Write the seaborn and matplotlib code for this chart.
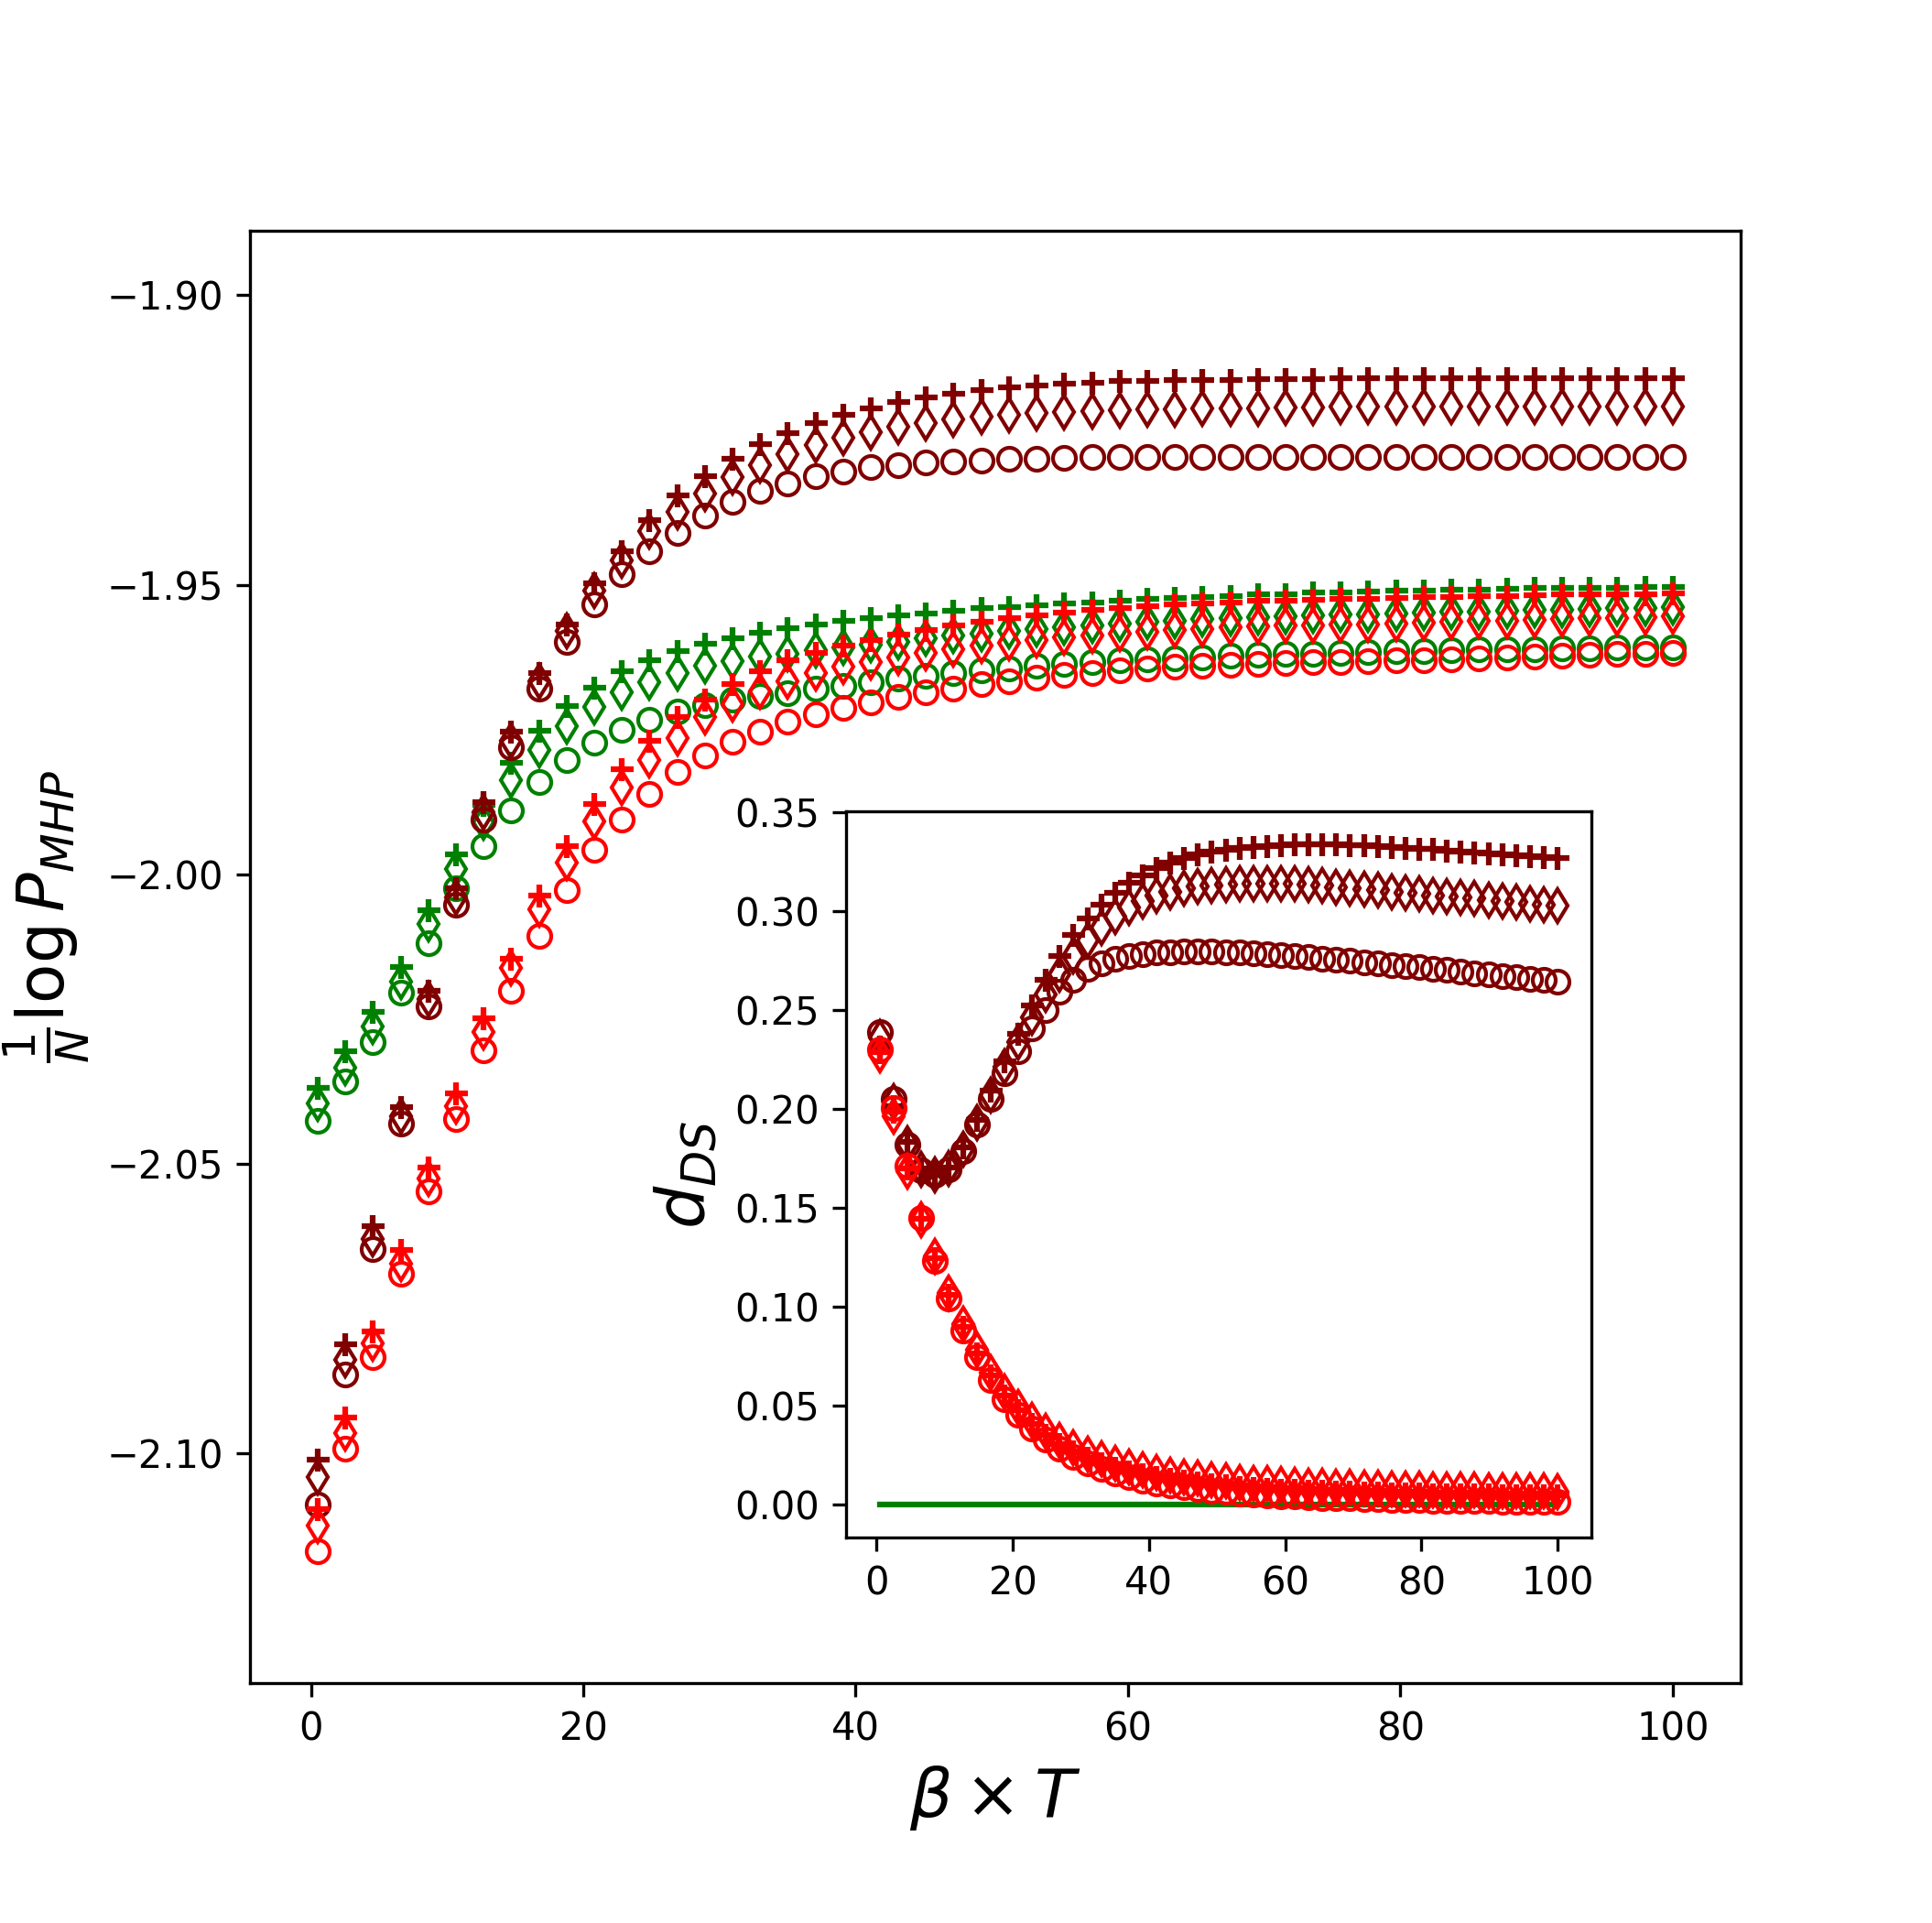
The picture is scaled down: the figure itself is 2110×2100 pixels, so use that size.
import numpy as np
import matplotlib
matplotlib.use("Agg")
import matplotlib.pyplot as plt
import seaborn as sns

# ---------------- data ----------------
beta_T = [0.50, 2.53, 4.56, 6.59, 8.62, 10.65, 12.68, 14.71, 16.74, 18.78,
          20.81, 22.84, 24.87, 26.90, 28.93, 30.96, 32.99, 35.02, 37.05, 39.08,
          41.11, 43.14, 45.17, 47.20, 49.23, 51.27, 53.30, 55.33, 57.36, 59.39,
          61.42, 63.45, 65.48, 67.51, 69.54, 71.57, 73.60, 75.63, 77.66, 79.69,
          81.72, 83.76, 85.79, 87.82, 89.85, 91.88, 93.91, 95.94, 97.97, 100.00]

# main panel: (1/N) log P_MHP
darkred_plus = [-2.1011, -2.0811, -2.0608, -2.0402, -2.0201, -2.0024, -1.9876, -1.9753, -1.9653, -1.9569,
                -1.9498, -1.9442, -1.9388, -1.9346, -1.9312, -1.9283, -1.9257, -1.9238, -1.9221, -1.9206,
                -1.9195, -1.9185, -1.9176, -1.9170, -1.9164, -1.9160, -1.9156, -1.9153, -1.9151, -1.9149,
                -1.9148, -1.9147, -1.9146, -1.9146, -1.9145, -1.9145, -1.9145, -1.9144, -1.9144, -1.9144,
                -1.9144, -1.9143, -1.9143, -1.9143, -1.9143, -1.9143, -1.9143, -1.9143, -1.9143, -1.9143]
darkred_diam = [-2.1040, -2.0838, -2.0630, -2.0417, -2.0215, -2.0040, -1.9893, -1.9769, -1.9666, -1.9580,
                -1.9511, -1.9458, -1.9408, -1.9374, -1.9342, -1.9315, -1.9293, -1.9274, -1.9259, -1.9246,
                -1.9236, -1.9227, -1.9221, -1.9214, -1.9210, -1.9206, -1.9204, -1.9202, -1.9200, -1.9199,
                -1.9198, -1.9197, -1.9196, -1.9195, -1.9195, -1.9194, -1.9194, -1.9193, -1.9193, -1.9193,
                -1.9192, -1.9192, -1.9192, -1.9192, -1.9192, -1.9192, -1.9192, -1.9192, -1.9192, -1.9192]
darkred_circ = [-2.1088, -2.0864, -2.0647, -2.0430, -2.0228, -2.0053, -1.9906, -1.9781, -1.9679, -1.9598,
                -1.9534, -1.9482, -1.9442, -1.9410, -1.9380, -1.9357, -1.9338, -1.9325, -1.9312, -1.9304,
                -1.9297, -1.9293, -1.9289, -1.9287, -1.9285, -1.9283, -1.9282, -1.9281, -1.9280, -1.9280,
                -1.9280, -1.9280, -1.9280, -1.9280, -1.9280, -1.9280, -1.9280, -1.9280, -1.9280, -1.9280,
                -1.9280, -1.9280, -1.9280, -1.9280, -1.9280, -1.9280, -1.9280, -1.9280, -1.9280, -1.9280]

green_plus = [-2.0368, -2.0306, -2.0238, -2.0160, -2.0062, -1.9966, -1.9880, -1.9808, -1.9752, -1.9709,
              -1.9677, -1.9650, -1.9630, -1.9614, -1.9602, -1.9592, -1.9583, -1.9575, -1.9569, -1.9563,
              -1.9558, -1.9553, -1.9549, -1.9545, -1.9541, -1.9538, -1.9535, -1.9532, -1.9530, -1.9527,
              -1.9525, -1.9523, -1.9521, -1.9519, -1.9517, -1.9516, -1.9514, -1.9513, -1.9512, -1.9511,
              -1.9510, -1.9509, -1.9508, -1.9507, -1.9506, -1.9506, -1.9505, -1.9505, -1.9504, -1.9504]
green_diam = [-2.0396, -2.0334, -2.0263, -2.0185, -2.0085, -1.9990, -1.9910, -1.9837, -1.9785, -1.9744,
              -1.9711, -1.9686, -1.9668, -1.9653, -1.9640, -1.9632, -1.9624, -1.9619, -1.9613, -1.9608,
              -1.9603, -1.9598, -1.9593, -1.9588, -1.9584, -1.9580, -1.9576, -1.9573, -1.9570, -1.9567,
              -1.9564, -1.9562, -1.9560, -1.9558, -1.9556, -1.9554, -1.9553, -1.9552, -1.9551, -1.9550,
              -1.9548, -1.9547, -1.9546, -1.9545, -1.9544, -1.9543, -1.9542, -1.9541, -1.9540, -1.9539]
green_circ = [-2.0425, -2.0357, -2.0289, -2.0204, -2.0119, -2.0024, -1.9952, -1.9889, -1.9840, -1.9802,
              -1.9773, -1.9750, -1.9733, -1.9719, -1.9708, -1.9698, -1.9692, -1.9687, -1.9679, -1.9674,
              -1.9668, -1.9662, -1.9657, -1.9652, -1.9648, -1.9644, -1.9640, -1.9637, -1.9634, -1.9631,
              -1.9629, -1.9627, -1.9625, -1.9623, -1.9621, -1.9620, -1.9619, -1.9617, -1.9616, -1.9615,
              -1.9614, -1.9613, -1.9612, -1.9612, -1.9611, -1.9610, -1.9610, -1.9609, -1.9609, -1.9609]

red_plus = [-2.1095, -2.0938, -2.0789, -2.0648, -2.0506, -2.0378, -2.0248, -2.0146, -2.0037, -1.9951,
            -1.9879, -1.9819, -1.9770, -1.9728, -1.9698, -1.9671, -1.9649, -1.9630, -1.9618, -1.9605,
            -1.9595, -1.9586, -1.9578, -1.9571, -1.9564, -1.9558, -1.9553, -1.9548, -1.9544, -1.9540,
            -1.9537, -1.9534, -1.9532, -1.9530, -1.9528, -1.9527, -1.9526, -1.9525, -1.9524, -1.9523,
            -1.9522, -1.9521, -1.9520, -1.9519, -1.9518, -1.9517, -1.9517, -1.9516, -1.9516, -1.9515]
red_diam = [-2.1124, -2.0965, -2.0810, -2.0672, -2.0525, -2.0400, -2.0272, -2.0161, -2.0061, -1.9979,
            -1.9908, -1.9850, -1.9803, -1.9764, -1.9729, -1.9706, -1.9684, -1.9666, -1.9653, -1.9642,
            -1.9633, -1.9625, -1.9618, -1.9611, -1.9605, -1.9600, -1.9595, -1.9591, -1.9587, -1.9584,
            -1.9581, -1.9578, -1.9576, -1.9574, -1.9572, -1.9571, -1.9570, -1.9569, -1.9568, -1.9567,
            -1.9566, -1.9564, -1.9563, -1.9562, -1.9561, -1.9560, -1.9558, -1.9557, -1.9556, -1.9555]
red_circ = [-2.1169, -2.0992, -2.0834, -2.0689, -2.0547, -2.0423, -2.0304, -2.0201, -2.0106, -2.0027,
            -1.9958, -1.9906, -1.9861, -1.9823, -1.9795, -1.9771, -1.9753, -1.9737, -1.9724, -1.9713,
            -1.9703, -1.9694, -1.9686, -1.9679, -1.9672, -1.9666, -1.9661, -1.9656, -1.9652, -1.9648,
            -1.9645, -1.9642, -1.9640, -1.9638, -1.9636, -1.9635, -1.9634, -1.9633, -1.9632, -1.9631,
            -1.9630, -1.9628, -1.9627, -1.9625, -1.9624, -1.9622, -1.9621, -1.9620, -1.9619, -1.9618]

# inset: d_DS
dds_darkred_plus = [0.2312, 0.2011, 0.1830, 0.1700, 0.1668, 0.1705, 0.1805, 0.1945, 0.2090, 0.2240,
                    0.2380, 0.2520, 0.2650, 0.2770, 0.2880, 0.2960, 0.3030, 0.3090, 0.3140, 0.3180,
                    0.3215, 0.3243, 0.3265, 0.3283, 0.3297, 0.3308, 0.3317, 0.3324, 0.3329, 0.3333,
                    0.3335, 0.3336, 0.3336, 0.3335, 0.3333, 0.3330, 0.3327, 0.3323, 0.3319, 0.3315,
                    0.3311, 0.3306, 0.3301, 0.3296, 0.3291, 0.3286, 0.3281, 0.3276, 0.3271, 0.3267]
dds_darkred_diam = [0.2360, 0.2035, 0.1822, 0.1692, 0.1666, 0.1700, 0.1795, 0.1930, 0.2070, 0.2210,
                    0.2335, 0.2460, 0.2575, 0.2680, 0.2770, 0.2850, 0.2915, 0.2970, 0.3015, 0.3050,
                    0.3077, 0.3097, 0.3112, 0.3122, 0.3129, 0.3134, 0.3137, 0.3138, 0.3138, 0.3137,
                    0.3135, 0.3131, 0.3126, 0.3121, 0.3115, 0.3109, 0.3103, 0.3097, 0.3091, 0.3085,
                    0.3079, 0.3073, 0.3067, 0.3061, 0.3055, 0.3049, 0.3043, 0.3037, 0.3031, 0.3025]
dds_darkred_circ = [0.2389, 0.2050, 0.1817, 0.1687, 0.1664, 0.1694, 0.1787, 0.1919, 0.2050, 0.2181,
                    0.2289, 0.2405, 0.2497, 0.2590, 0.2651, 0.2705, 0.2735, 0.2757, 0.2772, 0.2782,
                    0.2788, 0.2792, 0.2794, 0.2795, 0.2794, 0.2792, 0.2789, 0.2785, 0.2781, 0.2776,
                    0.2771, 0.2765, 0.2759, 0.2753, 0.2747, 0.2741, 0.2734, 0.2727, 0.2721, 0.2714,
                    0.2707, 0.2700, 0.2693, 0.2686, 0.2679, 0.2672, 0.2665, 0.2658, 0.2650, 0.2643]

dds_red_plus = [0.2285, 0.1985, 0.1700, 0.1445, 0.1245, 0.1060, 0.0898, 0.0765, 0.0650, 0.0552,
                0.0475, 0.0407, 0.0353, 0.0306, 0.0267, 0.0235, 0.0208, 0.0186, 0.0167, 0.0152,
                0.0139, 0.0128, 0.0118, 0.0110, 0.0103, 0.0096, 0.0090, 0.0085, 0.0080, 0.0076,
                0.0073, 0.0070, 0.0067, 0.0065, 0.0063, 0.0061, 0.0059, 0.0057, 0.0055, 0.0054,
                0.0053, 0.0052, 0.0051, 0.0050, 0.0049, 0.0048, 0.0047, 0.0046, 0.0046, 0.0045]
dds_red_diam = [0.2270, 0.1962, 0.1683, 0.1440, 0.1255, 0.1070, 0.0910, 0.0780, 0.0665, 0.0568,
                0.0492, 0.0425, 0.0372, 0.0325, 0.0287, 0.0255, 0.0229, 0.0207, 0.0189, 0.0174,
                0.0161, 0.0150, 0.0140, 0.0132, 0.0125, 0.0119, 0.0113, 0.0108, 0.0104, 0.0100,
                0.0097, 0.0094, 0.0091, 0.0088, 0.0086, 0.0084, 0.0082, 0.0080, 0.0078, 0.0077,
                0.0075, 0.0074, 0.0073, 0.0072, 0.0071, 0.0070, 0.0069, 0.0068, 0.0067, 0.0066]
dds_red_circ = [0.2300, 0.2003, 0.1710, 0.1448, 0.1232, 0.1043, 0.0880, 0.0745, 0.0630, 0.0530,
                0.0452, 0.0383, 0.0329, 0.0280, 0.0240, 0.0207, 0.0180, 0.0157, 0.0138, 0.0122,
                0.0108, 0.0096, 0.0086, 0.0077, 0.0070, 0.0063, 0.0057, 0.0052, 0.0047, 0.0043,
                0.0040, 0.0037, 0.0034, 0.0032, 0.0030, 0.0028, 0.0026, 0.0024, 0.0023, 0.0021,
                0.0020, 0.0019, 0.0018, 0.0017, 0.0016, 0.0015, 0.0014, 0.0014, 0.0013, 0.0013]

dds_green = [0.0] * 50

colors = {"green": "green", "darkred": "#800000", "red": "red"}

# ---------------- figure ----------------
W, H = 2110, 2100
fig = plt.figure(figsize=(W / 300, H / 300), dpi=300)
ax = fig.add_axes([273 / W, 1 - 1838 / H, (1900.7 - 273) / W, (1838 - 252) / H])
axin = fig.add_axes([924 / W, 1 - 1679 / H, (1738 - 924) / W, (1679 - 886) / H])


def draw(a, y, marker, color):
    mew = 1.5 if marker == "+" else 1.0
    sns.lineplot(x=beta_T, y=y, ax=a, marker=marker, linestyle="", color=color,
                 markerfacecolor="none", markeredgecolor=color, markeredgewidth=mew,
                 markersize=6, sort=False, estimator=None, errorbar=None, legend=False)


main_series = [
    ("green", green_plus, green_diam, green_circ),
    ("darkred", darkred_plus, darkred_diam, darkred_circ),
    ("red", red_plus, red_diam, red_circ),
]
for cname, yp, yd, yc in main_series:
    c = colors[cname]
    draw(ax, yp, "+", c)
    draw(ax, yd, "d", c)
    draw(ax, yc, "o", c)

ax.set_ylim(-2.1396, -1.8889)
ax.set_yticks([-2.10, -2.05, -2.00, -1.95, -1.90])
ax.set_xticks([0, 20, 40, 60, 80, 100])
ax.set_xlabel(r"$\beta \times T$", fontsize=17.5)
ax.set_ylabel(r"$\frac{1}{N}\log P_{MHP}$", fontsize=17)
ax.yaxis.label.set_y(0.528)

# inset
sns.lineplot(x=beta_T, y=dds_green, ax=axin, color=colors["green"], linewidth=1.5,
             sort=False, estimator=None, errorbar=None, legend=False)
inset_series = [
    ("darkred", dds_darkred_plus, dds_darkred_diam, dds_darkred_circ),
    ("red", dds_red_plus, dds_red_diam, dds_red_circ),
]
for cname, yp, yd, yc in inset_series:
    c = colors[cname]
    draw(axin, yp, "+", c)
    draw(axin, yd, "d", c)
    draw(axin, yc, "o", c)

axin.set_xticks([0, 20, 40, 60, 80, 100])
axin.set_ylabel(r"$d_{DS}$", fontsize=17.5)
axin.set_xlabel("")

fig.savefig("out.png", dpi=300)
